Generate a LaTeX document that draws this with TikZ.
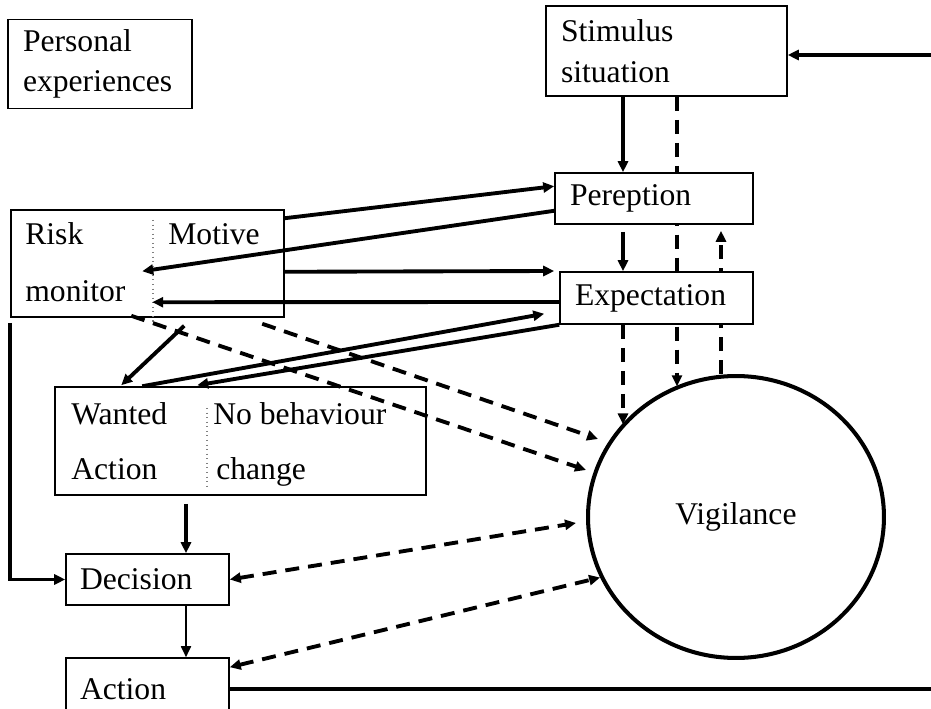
\documentclass[tikz,border=0pt]{standalone}
\usepackage{fontspec}
\setmainfont{Liberation Serif}
\usetikzlibrary{arrows.meta,calc,shapes.geometric,backgrounds}
\tikzset{
  box/.style={draw, line width=0.9pt, fill=white, align=left, inner xsep=0.3cm, inner ysep=0pt},
  link/.style={line width=2.2pt, ->},
  dlink/.style={link, dash pattern=on 0.28cm off 0.18cm},
  split/.style={gray, dotted, line width=0.6pt},
  txt/.style={anchor=base west, inner sep=0pt},
}
\begin{document}
\begin{tikzpicture}[x=0.02cm, y=-0.02cm, font=\fontsize{18}{23}\selectfont,
    >={Triangle[length=0.22cm,width=0.2cm]}]
    \useasboundingbox (0,0) rectangle (931,709);
    % columns of the vertical links
    \coordinate (c1) at (623,0); \coordinate (c2) at (677,0);
    \coordinate (c3) at (721,0); \coordinate (c4) at (186,0);
    \coordinate (rt) at (935,55); \coordinate (rb) at (935,0);
    % boxes
    \node[box, minimum height=1.78cm, text width=3.08cm] (pers) at (100,64) {Personal\\experiences};
    \node[box, minimum height=1.8cm, text width=4.22cm] (stim) at (666.5,51) {Stimulus\\situation};
    \node[box, minimum height=1.02cm, text width=3.36cm] (perc) at (654,198.5) {Pereption};
    \node[box, minimum height=1.04cm, text width=3.26cm] (expt) at (656.5,298) {Expectation};
    \node[box, minimum height=1.02cm, text width=2.7cm, inner xsep=0.28cm] (dec) at (147.5,579.5) {Decision};
    \node[box, minimum height=1.24cm, text width=2.7cm, inner xsep=0.28cm] (act) at (147.5,689) {Action};
    \node[draw, ellipse, line width=2.3pt, minimum width=5.92cm, minimum height=5.64cm, inner sep=0pt] (vig) at (736,517) {Vigilance};
    % two column boxes
    \node[box, minimum width=5.46cm, minimum height=2.14cm] (risk) at (147.5,263.5) {};
    \node[txt] (rk1) at (25,245) {Risk}; \node[txt] (rk2) at (25,302) {monitor};
    \node[txt] (mot) at (168,245) {Motive};
    \coordinate (rd1) at (153,220); \coordinate (rd2) at (153,325);
    \draw[split] (rd1) -- (rd2);
    \node[box, minimum width=7.42cm, minimum height=2.16cm] (want) at (240.5,441) {};
    \node[txt] (wa1) at (71,425) {Wanted}; \node[txt] (wa2) at (71,480) {Action};
    \node[txt] (nb1) at (213,425) {No behaviour}; \node[txt] (nb2) at (216,480) {change};
    \coordinate (wd1) at (207,408); \coordinate (wd2) at (207,490);
    \draw[split] (wd1) -- (wd2);
    % links behind the boxes
    \begin{pgfonlayer}{background}
    \draw[dlink] (c2 |- stim.south) -- (c2 |- vig.115);
    \draw[dlink, shorten >=0.12cm] (c3 |- vig.north) -- (c3 |- perc.south);
    \end{pgfonlayer}
    % main column
    \draw[link] (rt) -- (rt -| stim.east);
    \draw[link] (c1 |- stim.south) -- (c1 |- perc.north);
    \draw[link, shorten <=0.14cm] (c1 |- perc.south) -- (c1 |- expt.north);
    \draw[dlink] (c1 |- expt.south) -- (c1 |- vig.141);
    % risk monitor <-> pereption, expectation
    \draw[link] ($(risk.north east)+(0,9)$) -- ($(perc.north west)+(0,14)$);
    \draw[link] ($(perc.south west)+(0,-14)$) -- ($(risk.north west)+(132,62)$);
    \draw[link] ($(risk.south east)+(0,-46)$) -- ($(expt.west)+(-5,-27)$);
    \draw[link] ($(expt.west)+(0,4)$) -- ($(risk.north west)+(142,93)$);
    % wanted action
    \draw[link] (expt.south west) -- ($(want.north west)+(143,-1)$);
    \draw[link] ($(want.north west)+(88,0)$) -- ($(expt.south west)+(-15,-11)$);
    \draw[link] ($(risk.south west)+(174,8)$) -- ($(want.north west)+(67,-1)$);
    \draw[dlink] ($(risk.south west)+(121,-2)$) -- ($(vig.west)+(0,-47)$);
    \draw[dlink] ($(risk.south west)+(252,6)$) -- ($(vig.west)+(12,-78)$);
    % decision and action
    \draw[link] ($(risk.south west)+(0,5)$) |- (dec.west);
    \draw[link, shorten <=0.16cm] (c4 |- want.south) -- (c4 |- dec.north);
    \draw[line width=1pt, ->] (c4 |- dec.south) -- (c4 |- act.north);
    \draw[dlink, <->] (dec.east) -- ($(vig.west)+(-10,6)$);
    \draw[dlink, <->] ($(act.north east)+(0,10)$) -- (vig.204);
    \draw[line width=2.2pt] (act.east) -- (act.east -| rb);
\end{tikzpicture}
\end{document}
